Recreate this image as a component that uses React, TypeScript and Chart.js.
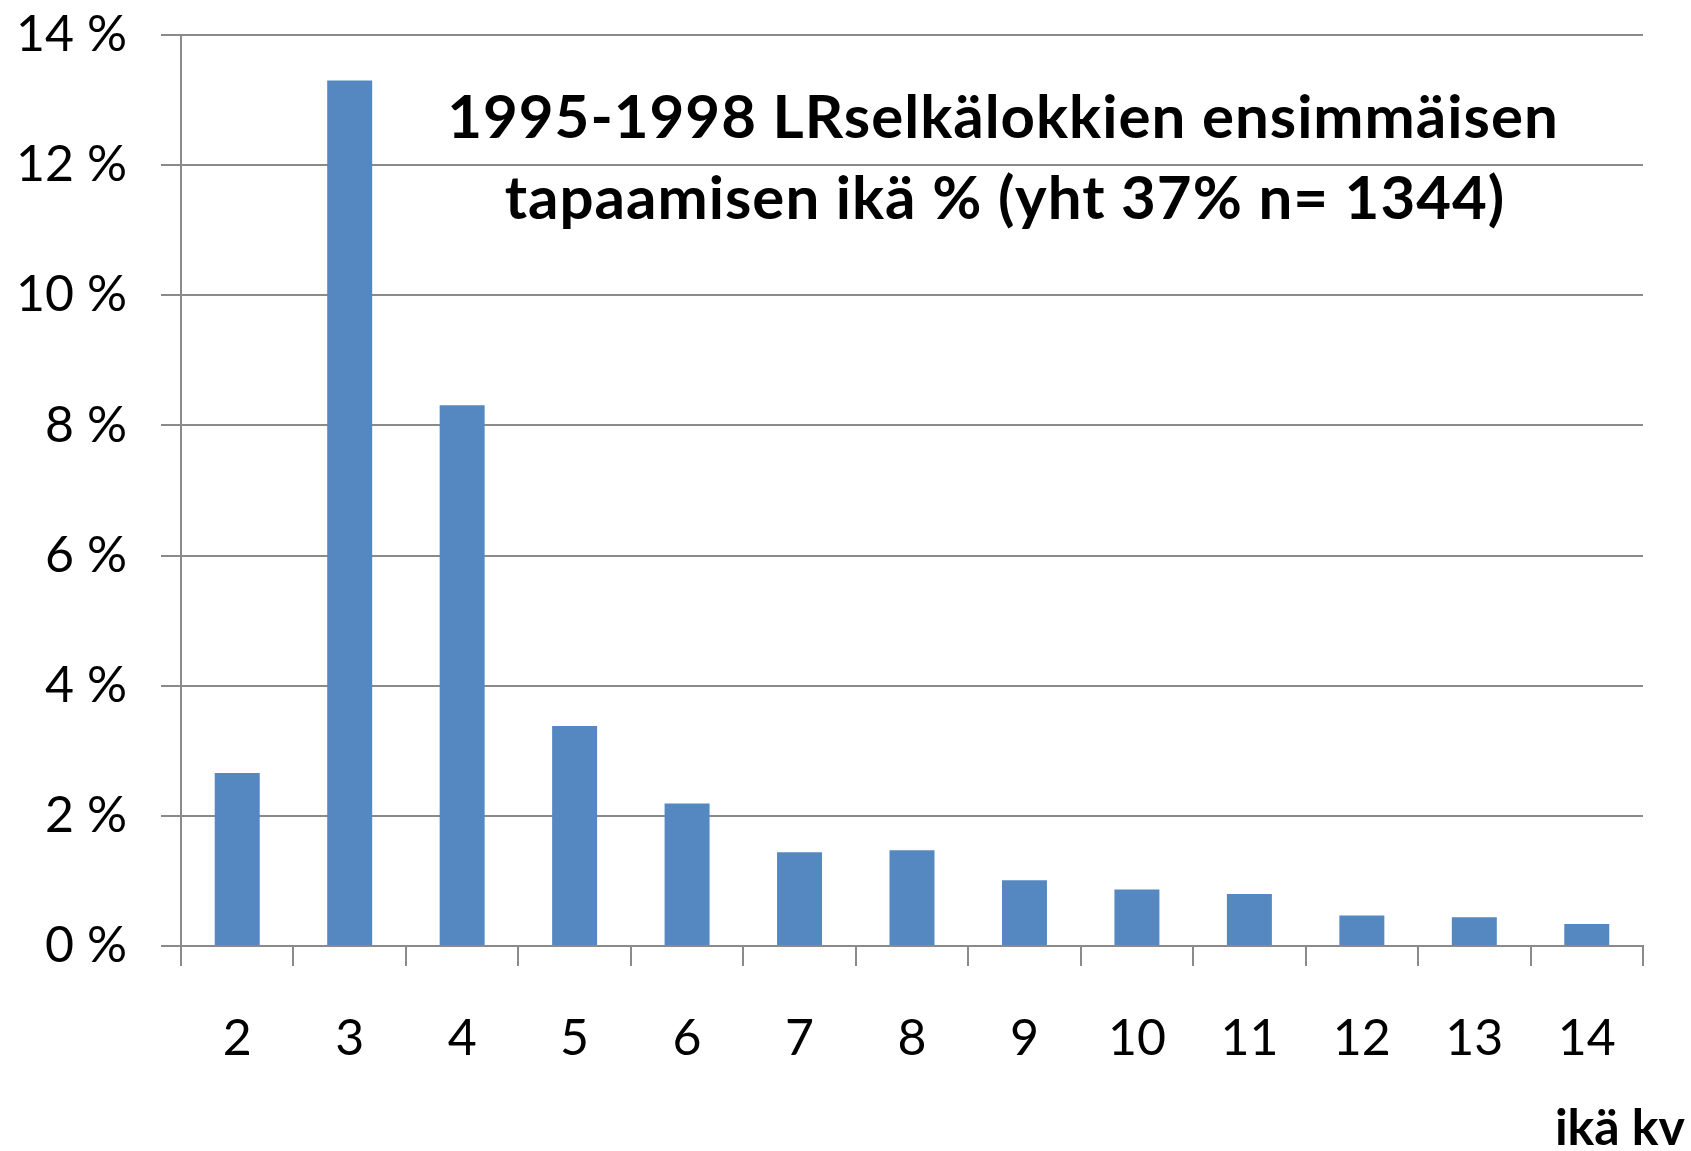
import React, { useEffect, useRef } from "react";
import { Chart, registerables } from "chart.js";

Chart.register(...registerables);

const categories = ["2", "3", "4", "5", "6", "7", "8", "9", "10", "11", "12", "13", "14"];
const shares = [2.66, 13.3, 8.31, 3.38, 2.19, 1.44, 1.47, 1.01, 0.87, 0.8, 0.47, 0.44, 0.34];
const yTicks = [0, 2, 4, 6, 8, 10, 12, 14];
const titleLines = ["1995-1998 LRselkälokkien ensimmäisen", "tapaamisen ikä % (yht 37% n= 1344)"];
const xAxisTitle = "ikä kv";

const W = 1691;
const H = 1151;
const FONT = "Lato, 'Open Sans', sans-serif";

const overlayPlugin = {
  id: "overlayText",
  afterDraw(chart: any) {
    const ctx = chart.ctx;
    ctx.save();
    ctx.fillStyle = "#000";
    ctx.textAlign = "center";
    ctx.textBaseline = "alphabetic";
    ctx.font = `bold 60px ${FONT}`;
    try {
      (ctx as any).letterSpacing = "1px";
    } catch (e) {}
    ctx.fillText(titleLines[0], 1003, 138);
    ctx.fillText(titleLines[1], 1005, 219);
    try {
      (ctx as any).letterSpacing = "0px";
    } catch (e) {}
    ctx.textAlign = "right";
    ctx.font = `bold 50px ${FONT}`;
    ctx.fillText(xAxisTitle, 1685, 1145);
    ctx.restore();
  },
};

export default function App() {
  const ref = useRef<HTMLCanvasElement | null>(null);
  useEffect(() => {
    if (!ref.current) return;
    const grid = "#8a8a8a";
    const chart = new Chart(ref.current, {
      type: "bar",
      data: {
        labels: categories,
        datasets: [
          {
            data: shares,
            backgroundColor: "#5587C0",
            borderWidth: 0,
            barPercentage: 0.4,
            categoryPercentage: 1,
          },
        ],
      },
      plugins: [overlayPlugin],
      options: {
        animation: false,
        responsive: false,
        devicePixelRatio: 1,
        layout: { padding: { left: 0, right: 48, top: 35, bottom: 0 } },
        plugins: { legend: { display: false }, tooltip: { enabled: false }, title: { display: false } },
        scales: {
          x: {
            offset: true,
            grid: {
              offset: true,
              drawOnChartArea: false,
              drawTicks: true,
              tickLength: 20,
              color: grid,
              lineWidth: 2,
            },
            border: { display: true, color: grid, width: 2 },
            ticks: {
              color: "#000",
              font: { family: FONT, size: 50 },
              padding: 43,
              maxRotation: 0,
              autoSkip: false,
            },
            afterFit(scale: any) {
              scale.height = H - 946;
            },
          },
          y: {
            min: 0,
            max: 14,
            afterBuildTicks(scale: any) {
              scale.ticks = yTicks.map((v) => ({ value: v }));
            },
            grid: { color: grid, lineWidth: 2, drawTicks: true, tickLength: 20 },
            border: { display: true, color: grid, width: 2 },
            ticks: {
              color: "#000",
              font: { family: FONT, size: 50 },
              padding: 34,
              callback: (v: any) => `${v} %`,
            },
            afterFit(scale: any) {
              scale.width = 181;
              scale.paddingTop = 30;
              scale.paddingBottom = 30;
            },
          },
        },
      },
    });
    return () => chart.destroy();
  }, []);
  return (
    <div style={{ position: "absolute", left: 0, top: 0, width: W, height: H, background: "#fff" }}>
      <canvas ref={ref} width={W} height={H} style={{ width: W, height: H, display: "block" }} />
    </div>
  );
}
